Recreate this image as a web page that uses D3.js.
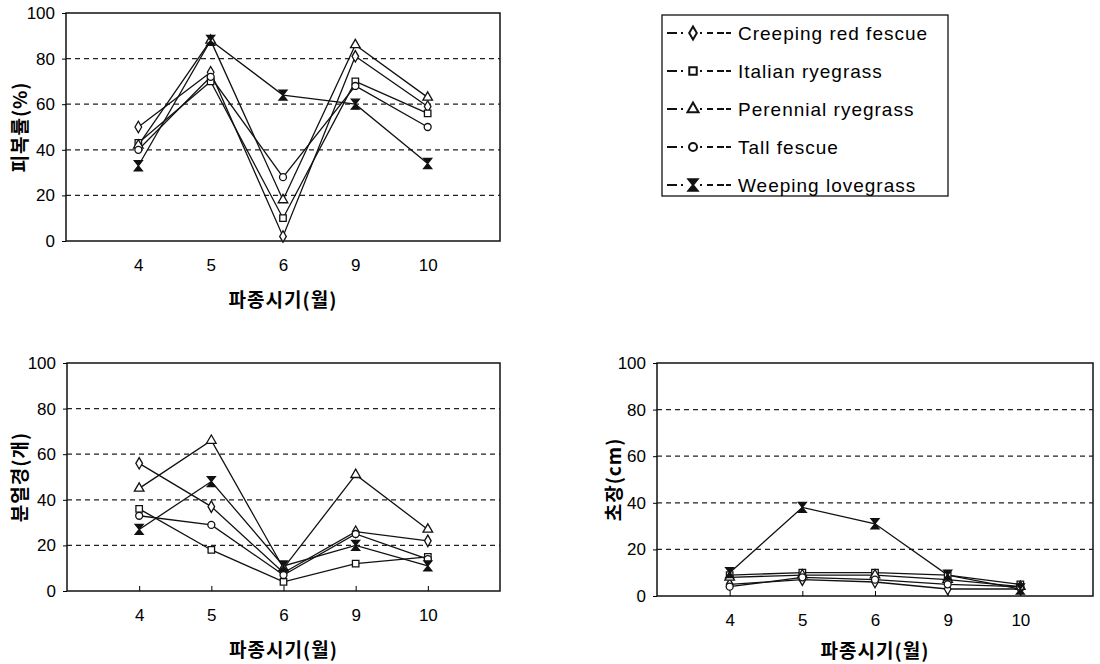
<!DOCTYPE html>
<html>
<head>
<meta charset="utf-8">
<script src="https://cdn.jsdelivr.net/npm/d3@7"></script>
<style>
  body { margin: 0; background: #fff; }
  svg { display: block; font-family: "Liberation Sans", Arial, sans-serif; }
</style>
</head>
<body>
<svg id="chart" width="1100" height="664"></svg>
<script>
// sowing months (x categories)
const months = ['4', '5', '6', '9', '10'];
const species = ['Creeping red fescue', 'Italian ryegrass', 'Perennial ryegrass', 'Tall fescue', 'Weeping lovegrass'];
const yTicks = [0, 20, 40, 60, 80, 100];

// 피복률 (%) - one row per species
const coverage = [
  [50, 74, 2, 81, 59],
  [43, 70, 10, 70, 56],
  [42, 88, 18, 86, 63],
  [40, 72, 28, 68, 50],
  [33, 88, 64, 60, 34]
];
// 분얼경 (개)
const tillers = [
  [56, 37, 8, 26, 22],
  [36, 18, 4, 12, 15],
  [45, 66, 10, 51, 27],
  [33, 29, 7, 25, 14],
  [27, 48, 11, 20, 11]
];
// 초장 (cm)
const plantHeight = [
  [5, 7, 6, 3, 3],
  [9, 10, 10, 9, 5],
  [8, 9, 9, 7, 4],
  [4, 8, 7, 5, 4],
  [10, 38, 31, 9, 3]
];

const svg = d3.select('#chart');

// marker shape per species (same order as species)
const markerTypes = ['diamond', 'square', 'triangle', 'circle', 'hourglass'];
function markerPath(type, k = 1) {
  if (type === 'hourglass') return `M${-4 * k},${-5 * k}L${4 * k},${-5 * k}L${-4 * k},${5 * k}L${4 * k},${5 * k}Z`;
  const t = { diamond: d3.symbolDiamond, square: d3.symbolSquare, triangle: d3.symbolTriangle, circle: d3.symbolCircle }[type];
  const size = { diamond: 38, square: 42, triangle: 40, circle: 38 }[type];
  return d3.symbol().type(t).size(size * k * k)();
}

function drawPanel(cfg) {
  const g = svg.append('g').attr('transform', `translate(${cfg.left},${cfg.top})`);
  const x = d3.scalePoint().domain(months).range([0, cfg.w]).padding(1);
  const y = d3.scaleLinear().domain([0, 100]).range([cfg.h, 0]);

  // dashed grid lines
  g.selectAll('line.grid')
    .data(yTicks.filter(v => v > 0 && v < 100))
    .join('line')
    .attr('class', 'grid')
    .attr('x1', 0).attr('x2', cfg.w)
    .attr('y1', d => y(d)).attr('y2', d => y(d))
    .attr('stroke', '#222')
    .attr('stroke-width', 1.2)
    .attr('stroke-dasharray', '5,4');

  // frame
  g.append('rect')
    .attr('width', cfg.w).attr('height', cfg.h)
    .attr('fill', 'none').attr('stroke', '#111').attr('stroke-width', 1.5);

  // y axis
  const ya = g.append('g').call(d3.axisLeft(y).tickValues(yTicks).tickSize(4).tickPadding(7));
  ya.select('.domain').remove();
  ya.selectAll('text').attr('font-size', 17).attr('fill', '#000');

  // x axis (ticks point inward)
  const xa = g.append('g')
    .attr('transform', `translate(0,${cfg.h})`)
    .call(d3.axisBottom(x).tickSize(cfg.xTicks ? -5 : 0).tickPadding(18));
  xa.select('.domain').remove();
  xa.selectAll('text').attr('font-size', 17).attr('fill', '#000');

  // axis titles
  g.append('text')
    .attr('x', x('6')).attr('y', cfg.h + cfg.titlePad)
    .attr('text-anchor', 'middle').attr('dominant-baseline', 'central')
    .attr('font-family', '"Noto Sans CJK KR", sans-serif')
    .attr('font-weight', 'bold').attr('font-size', 19).attr('letter-spacing', 1)
    .text('파종시기(월)');
  g.append('text')
    .attr('transform', `translate(${cfg.yTitleX},${cfg.h / 2}) rotate(-90)`)
    .attr('text-anchor', 'middle').attr('dominant-baseline', 'central')
    .attr('font-family', '"Noto Sans CJK KR", sans-serif')
    .attr('font-weight', 'bold').attr('font-size', 19).attr('letter-spacing', 1)
    .text(cfg.yTitle);

  // series lines + markers
  const line = d3.line().x((d, i) => x(months[i])).y(d => y(d));
  cfg.data.forEach(vals => {
    g.append('path')
      .attr('d', line(vals))
      .attr('fill', 'none').attr('stroke', '#111').attr('stroke-width', 1.3);
  });
  cfg.data.forEach((vals, s) => {
    g.selectAll(null)
      .data(vals)
      .join('path')
      .attr('transform', (d, i) => `translate(${x(months[i])},${y(d)})`)
      .attr('d', markerPath(markerTypes[s]))
      .attr('fill', markerTypes[s] === 'hourglass' ? '#111' : '#fff')
      .attr('stroke', '#111').attr('stroke-width', 1.3);
  });
}

drawPanel({ left: 66, top: 13, w: 434, h: 228, data: coverage, yTitle: '피복률(%)', yTitleX: -48, xTicks: false, titlePad: 57 });
drawPanel({ left: 67, top: 363, w: 433, h: 228, data: tillers, yTitle: '분얼경(개)', yTitleX: -49, xTicks: true, titlePad: 57 });
drawPanel({ left: 657, top: 363, w: 436, h: 233, data: plantHeight, yTitle: '초장(cm)', yTitleX: -45, xTicks: true, titlePad: 53 });

// legend
const legend = svg.append('g');
legend.append('rect')
  .attr('x', 662).attr('y', 15).attr('width', 286).attr('height', 181)
  .attr('fill', '#fff').attr('stroke', '#111').attr('stroke-width', 1.3);
const rowY = d3.scalePoint().domain(species).range([33, 185]);
species.forEach((name, s) => {
  const cy = rowY(name);
  legend.append('line')
    .attr('x1', 667).attr('x2', 688).attr('y1', cy).attr('y2', cy)
    .attr('stroke', '#111').attr('stroke-width', 2).attr('stroke-dasharray', '10,4,2,20');
  legend.append('line')
    .attr('x1', 700).attr('x2', 733).attr('y1', cy).attr('y2', cy)
    .attr('stroke', '#111').attr('stroke-width', 2).attr('stroke-dasharray', '2,5,6,4,7');
  legend.append('path')
    .attr('transform', `translate(693,${cy})`)
    .attr('d', markerPath(markerTypes[s], 1.15))
    .attr('fill', markerTypes[s] === 'hourglass' ? '#111' : '#fff')
    .attr('stroke', '#111').attr('stroke-width', 2);
  legend.append('text')
    .attr('x', 738).attr('y', cy)
    .attr('dominant-baseline', 'central')
    .attr('font-size', 19).attr('letter-spacing', 1)
    .text(name);
});
</script>
</body>
</html>
